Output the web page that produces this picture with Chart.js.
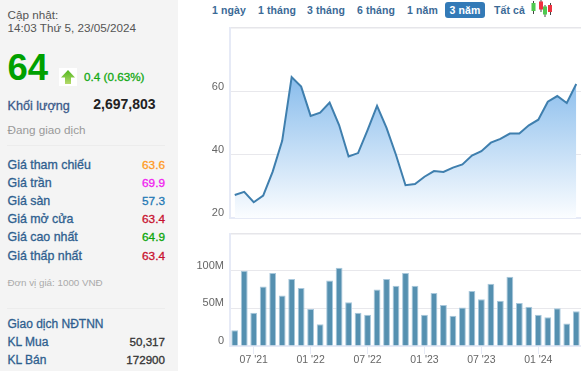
<!DOCTYPE html>
<html lang="vi"><head><meta charset="utf-8">
<script src="https://cdn.jsdelivr.net/npm/chart.js@4"></script>
<style>
html,body{margin:0;padding:0;background:#fff;overflow:hidden}
body{width:581px;height:371px;position:relative;font-family:"Liberation Sans",Arial,sans-serif}
#panel{position:absolute;left:0;top:0;width:178px;height:371px;background:#f4f4f4}
.t{position:absolute;white-space:nowrap;line-height:14px}
.m{-webkit-text-stroke:.3px currentColor}
.hr{position:absolute;left:7px;width:158px;height:1px;background:#ececec}
.btn{position:absolute;top:2px;height:16px;line-height:16px;font-size:10.5px;font-weight:bold;color:#3b6a96;white-space:nowrap;text-align:center;letter-spacing:.1px}
.btn.on{background:#337ab7;color:#fff;border-radius:3px}
canvas{position:absolute;display:block}
</style></head><body>
<div id="panel"></div>
<div id="buttons"></div>
<svg style="position:absolute;left:530px;top:0" width="22" height="18" viewBox="0 0 22 18">
<g stroke="#444" stroke-width="1"><path d="M3.5 1V14M11 0V12M15 5V17M20.5 3V15"/></g>
<rect x="1.5" y="3" width="4" height="8" fill="#4fc94f"/><rect x="9" y="1.5" width="4" height="8" fill="#ef3340"/>
<rect x="13" y="6.5" width="4" height="8" fill="#4fc94f"/><rect x="18" y="5" width="4" height="7" fill="#ef3340"/>
</svg>
<canvas id="price" style="left:190px;top:20px" width="391" height="203"></canvas>
<canvas id="volume" style="left:190px;top:228px" width="391" height="143"></canvas>
<script>
const months = ["05 '21","06 '21","07 '21","08 '21","09 '21","10 '21","11 '21","12 '21","01 '22","02 '22","03 '22","04 '22","05 '22","06 '22","07 '22","08 '22","09 '22","10 '22","11 '22","12 '22","01 '23","02 '23","03 '23","04 '23","05 '23","06 '23","07 '23","08 '23","09 '23","10 '23","11 '23","12 '23","01 '24","02 '24","03 '24","04 '24","05 '24"];
const prices = [27.3,28.3,25,27.1,34.7,44.5,64.7,61.7,52.4,53.4,56.6,49.5,39.5,40.6,47.9,55.6,48.6,40,30.4,30.8,33.1,34.9,34.6,36,37,39.8,41.2,43.9,45.1,46.8,46.8,49.4,51.2,56.9,58.7,56.5,62.5];
const volumes = [21,100,44,79,97,67,89,77,49,29,87,104,58,44,41.5,75,89,80,97,80,41.5,70.5,54.5,40,51,73,62,82.5,60,92,57,52,41.5,38,50,30,46];
const priceTicks = [20,40,60];
const volumeTicks = [0,50,100];
const rangeButtons = ["1 ngày","1 tháng","3 tháng","6 tháng","1 năm","3 năm","Tất cả"];
const activeRange = "3 năm";
const quoteRows = [["Giá tham chiếu","63.6","#ff9a1f"],["Giá trần","69.9","#f020f0"],["Giá sàn","57.3","#1f78b4"],["Giá mở cửa","63.4","#c8102e"],["Giá cao nhất","64.9","#0aa50a"],["Giá thấp nhất","63.4","#c8102e"]];

const panel = document.getElementById('panel');
function text(s,o){const d=document.createElement('div');d.className='t'+(o.m?' m':'');d.textContent=s;
  const st=d.style;st.top=o.y+'px';if(o.r!==undefined){st.right=(178-o.r)+'px'}else{st.left=o.x+'px'}
  st.fontSize=o.s+'px';st.color=o.c;if(o.b)st.fontWeight='bold';if(o.lh){st.lineHeight=o.lh+'px'}panel.appendChild(d);return d}
text("Cập nhật:",{x:7.5,y:8,s:11.7,c:'#555'});
text("14:03 Thứ 5, 23/05/2024",{x:7.5,y:21,s:11.7,c:'#555'});
text("64",{x:7.5,y:48,s:36.5,c:'#00a000',b:1,lh:40});
text("0.4 (0.63%)",{x:84,y:70,s:11.7,c:'#12a812',m:1});
text("Khối lượng",{x:7.5,y:99,s:12.6,c:'#3b5a8a',m:1});
text("2,697,803",{r:155.5,y:97,s:14,c:'#222',b:1});
text("Đang giao dịch",{x:7.5,y:123,s:11.7,c:'#999'});
quoteRows.forEach((r,i)=>{const y=158+i*18.1;text(r[0],{x:7.5,y,s:12.4,c:'#2f5f8f',m:1});text(r[1],{r:165,y,s:11.8,c:r[2],m:1})});
text("Đơn vị giá: 1000 VNĐ",{x:7.5,y:275.5,s:9.8,c:'#aaa'});
text("Giao dịch NĐTNN",{x:7.5,y:317,s:12,c:'#2f5f8f',m:1});
text("KL Mua",{x:7.5,y:335,s:12,c:'#2f5f8f',m:1});
text("50,317",{r:165,y:335,s:11.6,c:'#333',m:1});
text("KL Bán",{x:7.5,y:353,s:12,c:'#2f5f8f',m:1});
text("172900",{r:165,y:353,s:11.6,c:'#333',m:1});
[145,308].forEach(y=>{const h=document.createElement('div');h.className='hr';h.style.top=y+'px';panel.appendChild(h)});
const arrow=document.createElementNS('http://www.w3.org/2000/svg','svg');
arrow.setAttribute('width','18');arrow.setAttribute('height','18');arrow.style.cssText='position:absolute;left:59px;top:68px;background:#fff';
arrow.innerHTML='<defs><linearGradient id="ag" x1="0" y1="0" x2="0" y2="1"><stop offset="0" stop-color="#4fb81e"/><stop offset="1" stop-color="#b5d96a"/></linearGradient></defs><path d="M9 2L16 9.5H12V16H6V9.5H2Z" fill="url(#ag)"/>';
panel.appendChild(arrow);

const btnBox=[[212,32],[258,35],[307,36],[357,36],[407,30],[445,40],[494,30]];
const bb=document.getElementById('buttons');
rangeButtons.forEach((b,i)=>{const d=document.createElement('div');d.className='btn'+(b===activeRange?' on':'');d.textContent=b;d.style.left=btnBox[i][0]+'px';d.style.width=btnBox[i][1]+'px';bb.appendChild(d)});

const frame={id:'frame',beforeDatasetsDraw(c){const a=c.chartArea,x=c.ctx;x.save();x.fillStyle='#e6e6ea';x.fillRect(a.left-1,a.top,a.width+1,1.5);x.fillStyle='#e6eaf6';x.fillRect(a.left-1,a.top,2,a.height+1);x.fillRect(a.left-1,a.bottom-1,a.width+1,2);x.restore()}};
const fontTick={family:'"Liberation Sans",Arial,sans-serif',size:11};
const yAxis=(min,max,ticks,fmt)=>({min,max,afterFit(s){s.width=40;s.paddingTop=0;s.paddingBottom=0},afterBuildTicks(s){s.ticks=ticks.map(v=>({value:v}))},border:{display:false},
  grid:{color:'#e8e8ec',lineWidth:1,drawTicks:false},ticks:{color:'#666',font:fontTick,padding:6,labelOffset:-5,callback:fmt}});

new Chart(document.getElementById('price'),{type:'line',plugins:[frame],
 data:{labels:months,datasets:[{data:prices,borderColor:'#3f7fae',borderWidth:2,pointRadius:0,tension:0,fill:'start',
  backgroundColor(ctx){const a=ctx.chart.chartArea;if(!a)return 'transparent';const g=ctx.chart.ctx.createLinearGradient(0,ctx.chart.scales.y.getPixelForValue(65),0,a.bottom);g.addColorStop(0,'#88bcec');g.addColorStop(1,'#fbfdff');return g}}]},
 options:{responsive:false,animation:false,events:[],layout:{padding:{top:7,right:0,bottom:5,left:0}},plugins:{legend:{display:false},tooltip:{enabled:false}},
  scales:{x:{offset:true,display:false},y:yAxis(20,80.6,priceTicks,v=>v)}}});

const major=l=>l.startsWith('01')||l.startsWith('07');
new Chart(document.getElementById('volume'),{type:'bar',plugins:[frame],
 data:{labels:months,datasets:[{data:volumes,backgroundColor:'#5590b0',borderColor:'#a9c8dc',borderWidth:{left:1,right:1,top:1,bottom:0},barPercentage:.72,categoryPercentage:1}]},
 options:{responsive:false,animation:false,events:[],layout:{padding:{top:5,right:0,bottom:0,left:0}},plugins:{legend:{display:false},tooltip:{enabled:false}},
  scales:{x:{offset:true,afterFit(s){s.height=25;s.paddingLeft=0;s.paddingRight=0},border:{display:false},grid:{drawOnChartArea:false,tickLength:8,offset:false,color:c=>major(months[c.index])?'#e6eaf6':'transparent'},
    ticks:{autoSkip:false,maxRotation:0,minRotation:0,color:'#666',font:{family:fontTick.family,size:10.5},padding:0,callback(v,i){return major(months[i])?months[i]:''}}},
   y:yAxis(0,150,volumeTicks,v=>v===0?'0':v+'M')}}});
</script></body></html>
